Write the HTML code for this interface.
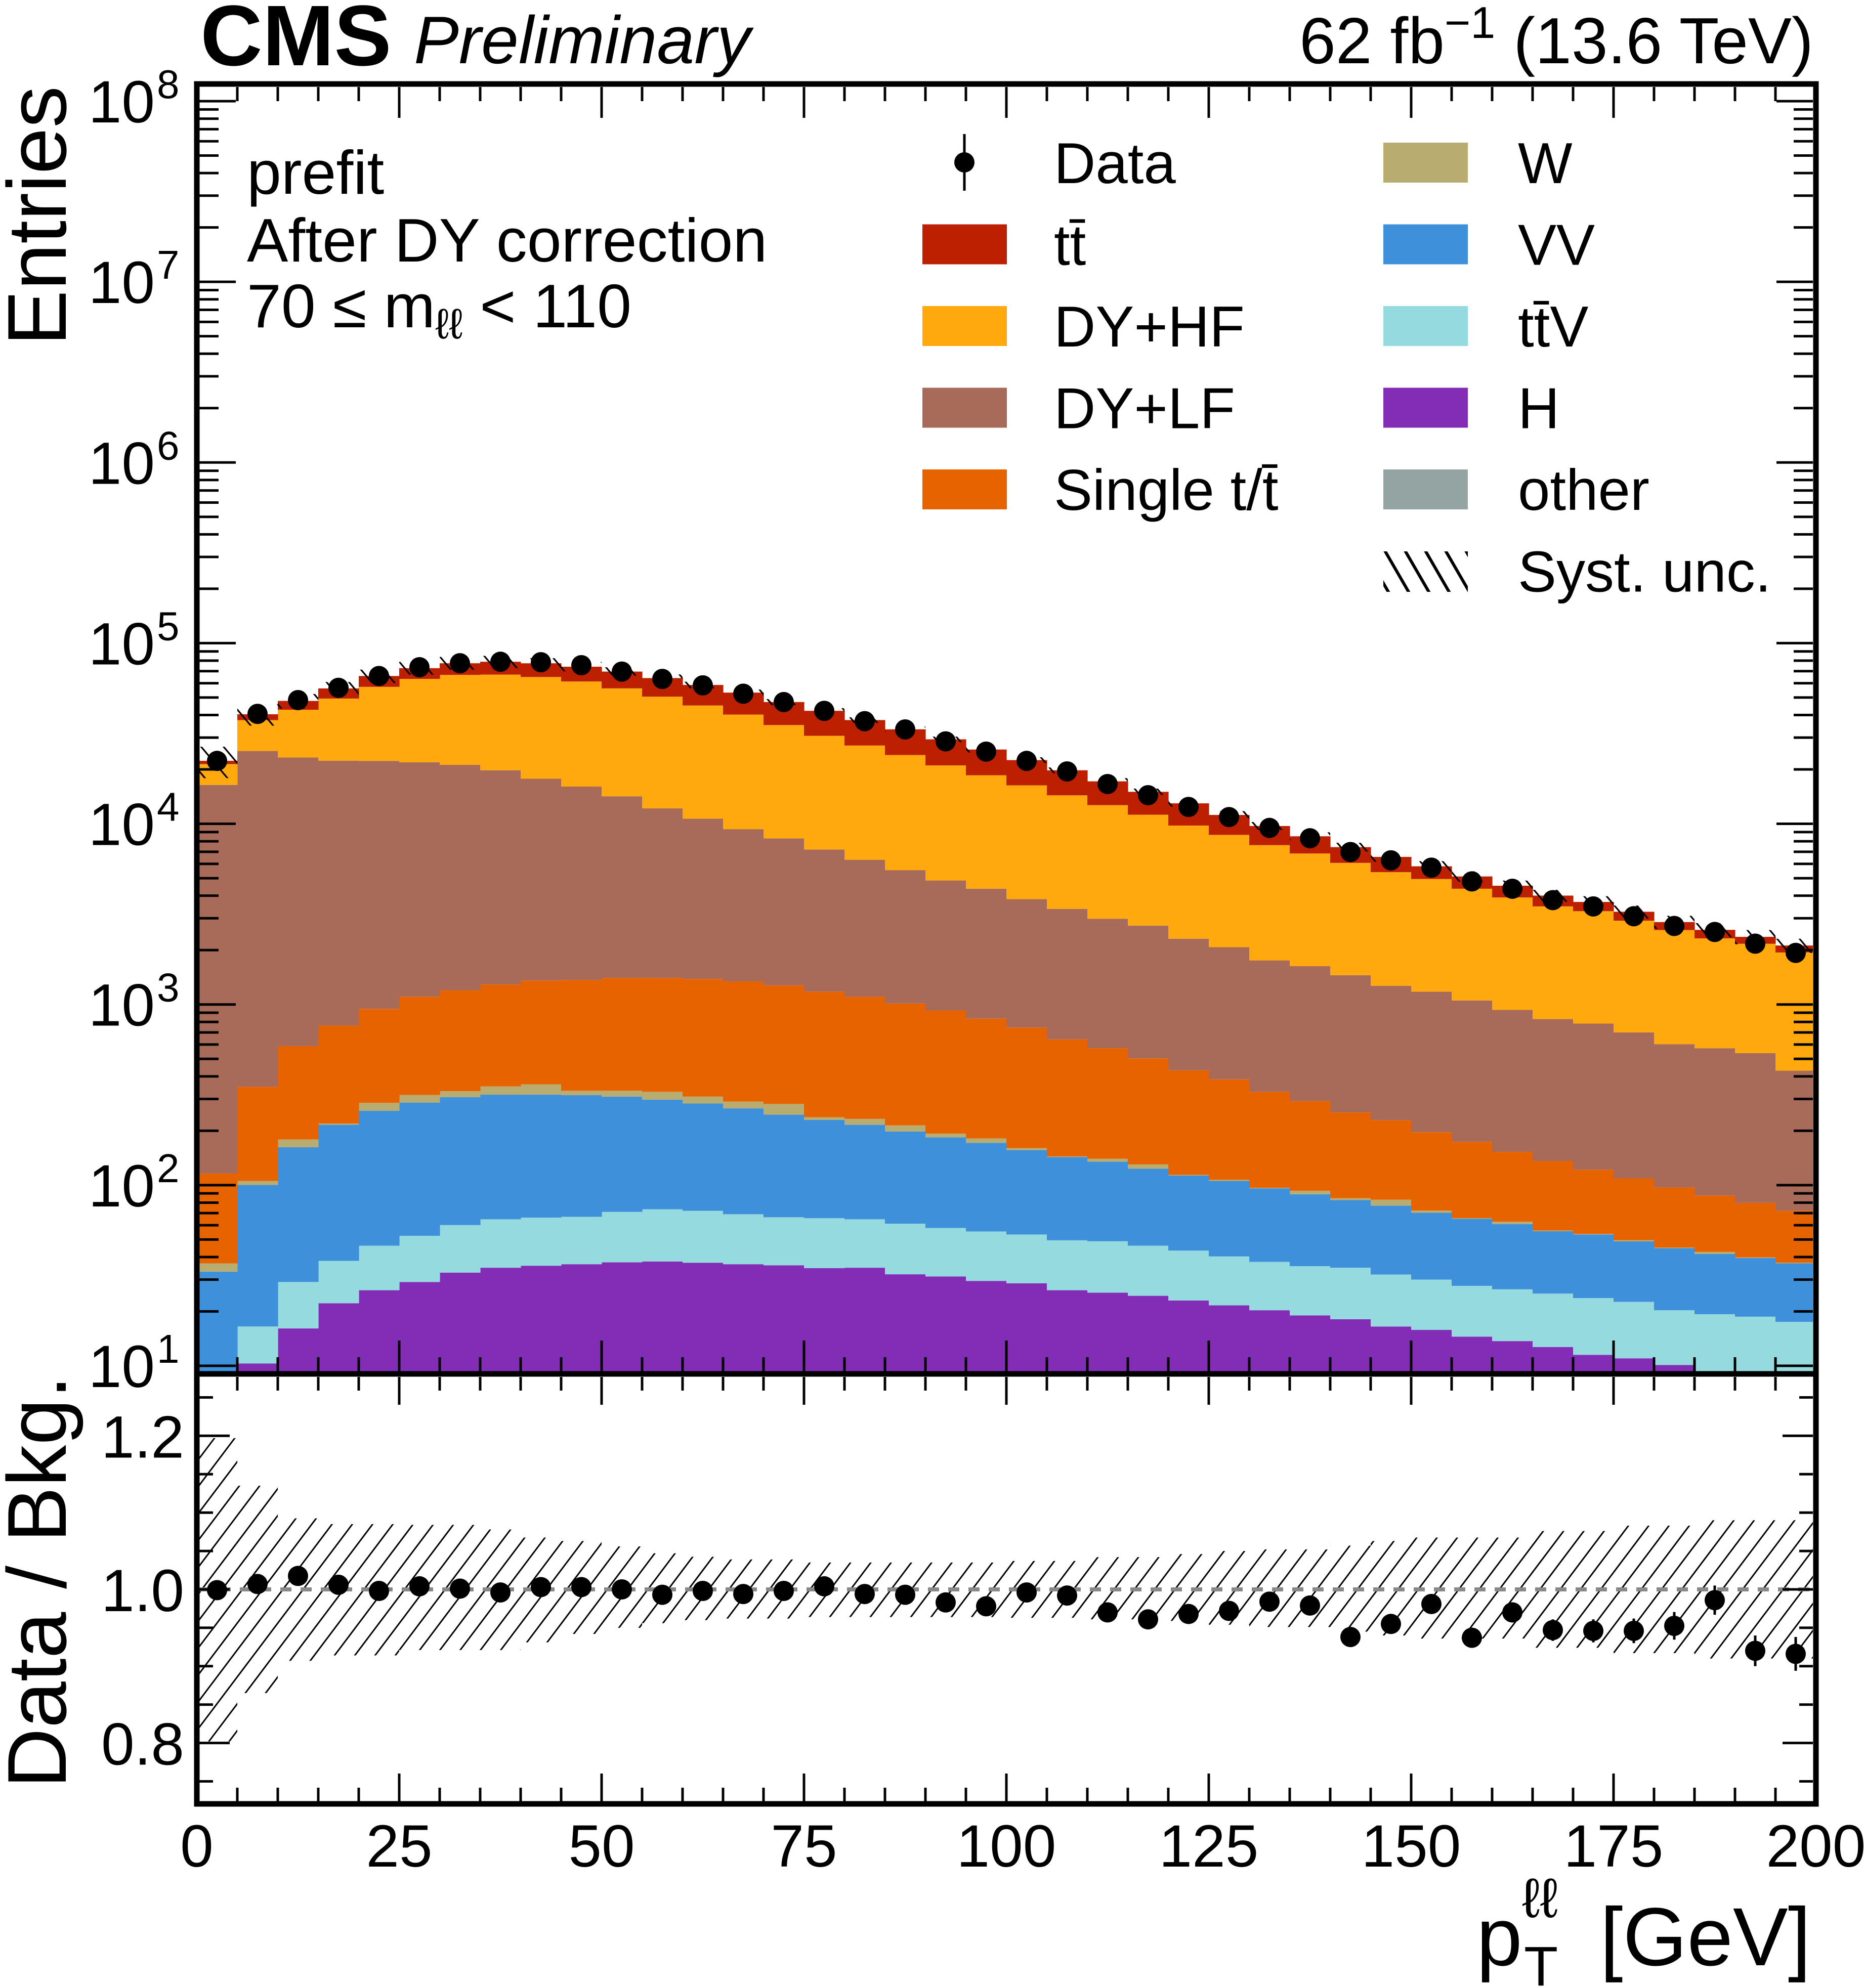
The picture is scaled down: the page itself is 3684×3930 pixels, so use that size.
<!DOCTYPE html>
<html><head><meta charset="utf-8"><title>CMS pT ll</title>
<style>html,body{margin:0;padding:0;background:#fff}svg{display:block}</style>
</head><body>
<svg id="chart" xmlns="http://www.w3.org/2000/svg" width="3684" height="3930" viewBox="0 0 3684 3930" font-family="Liberation Sans, sans-serif">
<defs>
<pattern id="hatchMain" width="34" height="34" patternUnits="userSpaceOnUse" patternTransform="rotate(-40)"><line x1="0" y1="0" x2="0" y2="34" stroke="#000" stroke-width="6.5"/></pattern>
<pattern id="hatchRatio" width="32" height="32" patternUnits="userSpaceOnUse" patternTransform="rotate(37)"><line x1="0" y1="0" x2="0" y2="32" stroke="#000" stroke-width="6"/></pattern>
<clipPath id="clipMain"><rect x="394" y="172" width="3189" height="2539"/></clipPath>
<clipPath id="clipRatio"><rect x="394" y="2722" width="3189" height="838"/></clipPath>
<clipPath id="clipLegHatch"><rect x="2734" y="1090" width="167" height="80"/></clipPath>
</defs>
<g id="mainStack" clip-path="url(#clipMain)"></g>
<g id="mainUnc" clip-path="url(#clipMain)"></g>
<g id="mainData"></g>
<g id="ratioBand" clip-path="url(#clipRatio)"></g>
<line x1="394" y1="3142" x2="3583" y2="3142" stroke="#888" stroke-width="8" stroke-dasharray="22,18"/>
<g id="ratioData"></g>
<g id="ticks" stroke="#000" stroke-width="5"></g>
<rect x="389" y="166" width="3200" height="2550" fill="none" stroke="#000" stroke-width="11"/>
<rect x="389" y="2716" width="3200" height="850" fill="none" stroke="#000" stroke-width="11"/>
<g id="labels" font-size="118" fill="#000"></g>

<text x="396" y="129" font-size="170" font-weight="bold">CMS</text>
<text x="818" y="125" font-size="133" font-style="italic">Preliminary</text>
<text x="3584" y="125" font-size="129" text-anchor="end">62 fb<tspan font-size="88" dy="-50">−1</tspan><tspan dy="50"> (13.6 TeV)</tspan></text>
<text transform="translate(130,170) rotate(-90)" font-size="165" text-anchor="end">Entries</text>
<text transform="translate(130,2719) rotate(-90)" font-size="165" text-anchor="end">Data / Bkg.</text>
<g font-size="163">
<text x="2918" y="3885">p</text>
<text x="3012" y="3925" font-size="110">T</text>
<text x="3008" y="3790" font-size="110">ℓℓ</text>
<text x="3579" y="3885" text-anchor="end">[GeV]</text>
</g>
<text x="488" y="383" font-size="122">prefit</text>
<text x="488" y="517" font-size="122">After DY correction</text>
<text x="488" y="647" font-size="122">70 ≤ m<tspan font-size="84" dy="22">ℓℓ</tspan><tspan dy="-22"> &lt; 110</tspan></text>

<g id="legend" font-size="114"></g>
</svg>
<script>
const binEdges0 = 0;
const binWidth = 5;
const xTickLabels = ["0","25","50","75","100","125","150","175","200"];
const xTickValues = [0,25,50,75,100,125,150,175,200];
const yTickExps = [1,2,3,4,5,6,7,8];
const ratioTickValues = [0.8,1.0,1.2];
const ratioTickLabels = ["0.8","1.0","1.2"];

const hValues = [0,10.3,16.1,22.2,26.2,29.1,32.8,34.9,35.8,36.5,37.4,37.8,37.2,36.5,36,34.7,34.9,32.1,31.2,29.5,28.6,26.2,25.4,24.4,23,21.6,20.3,19,18.1,16.5,15.8,14.5,13.7,12.7,11.5,11.0,10.1,0,0,0];
const ttvValues = [0,6.2,13.0,15.9,20,23.3,27.3,29.8,30.3,30.3,33.7,35.7,34.9,32.5,30.4,30.9,29.8,29.1,26.7,25.9,24.7,23.3,23.5,21.8,20.4,18.7,17.3,16.6,16.8,15.5,14.2,13.2,12.8,12.4,12.2,11.6,10.2,19.3,18.7,17.5];
const vvValues = [33.2,83.8,133,178,212,234,247,252,251,248,238,224,211,197,179,164,151,137,126,116,103,93.5,86,77,69.6,65.2,58.4,53.5,47.7,45,40.3,37.5,34.4,30.5,29.6,26.3,24.5,22.3,20.8,19.4];
const wValues = [3.7,5.2,17,3,27,29,24,35,44,18,24,31,26,24,36,8,17,16,9,10,4,1,5,7,1,1.5,0.6,4,2,6,2,0.5,1.9,0.5,0.4,0.6,0.3,1.1,0.3,0.3];
const singleTopValues = [79,245,409,545,661,789,868,939,997,1035,1070,1074,1075,1053,995,940,871,798,734,653,585,497,433,373,318,278,232,199,168,146,124,108,90,80,68,59.5,52,45,40,35];
const dyLfValues = [16300,24950,22700,21600,21350,20800,20000,18500,16400,14700,12800,10770,9300,8000,7030,6030,5220,4530,3930,3540,3085,2740,2410,2230,1880,1690,1425,1337,1200,1040,982,879,780,694,662,591,506,485,458,358];
const dyHfValues = [5000,12200,19500,27000,35000,41500,45500,47200,47200,45300,42000,38400,34500,30900,26900,23500,20800,18500,16200,14200,12500,11000,9700,8500,7470,6610,5870,5220,4625,4130,3770,3320,2980,2660,2500,2210,1980,1750,1630,1510];
const ttbarValues = [900,2900,5100,6800,8500,9300,10700,11900,12400,12700,13400,13500,13500,13000,12000,11500,10400,9300,8300,7200,6200,5400,4500,3800,3200,2510,2100,1680,1350,1160,870,740,630,515,410,350,275,265,200,180];
const dataValues = [22300,40600,48400,56600,65800,73600,77400,78900,78400,75500,69600,63400,58400,52500,47200,42200,37000,33300,28600,25100,22300,19500,16600,14400,12400,10900,9490,8320,6980,6280,5720,4800,4370,3780,3490,3080,2720,2520,2170,1930];
const ratioValues = [0.999,1.007,1.0175,1.006,0.998,1.004,1.001,0.996,1.003,1.003,1.0,0.993,0.998,0.994,0.998,1.004,0.994,0.993,0.983,0.978,0.996,0.992,0.970,0.961,0.968,0.972,0.984,0.979,0.938,0.955,0.981,0.937,0.970,0.947,0.946,0.946,0.9525,0.986,0.920,0.916];
const ratioErrValues = [0.005,0.004,0.004,0.004,0.004,0.004,0.004,0.004,0.004,0.004,0.004,0.004,0.004,0.004,0.005,0.005,0.005,0.005,0.006,0.006,0.006,0.007,0.007,0.008,0.008,0.009,0.009,0.01,0.011,0.011,0.012,0.013,0.013,0.014,0.015,0.016,0.018,0.019,0.02,0.022];
const systUp = [0.197,0.135,0.0925,0.085,0.085,0.084,0.084,0.078,0.0675,0.063,0.056,0.047,0.0425,0.039,0.039,0.035,0.035,0.035,0.035,0.035,0.037,0.037,0.042,0.042,0.046,0.05,0.052,0.052,0.057,0.063,0.0675,0.0675,0.0675,0.076,0.076,0.083,0.083,0.09,0.09,0.09];
const systDown = [0.198,0.135,0.093,0.086,0.086,0.079,0.079,0.079,0.069,0.058,0.05,0.044,0.04,0.038,0.038,0.036,0.036,0.036,0.036,0.036,0.037,0.037,0.039,0.039,0.041,0.046,0.049,0.049,0.055,0.06,0.064,0.064,0.064,0.076,0.076,0.083,0.083,0.09,0.09,0.09];

const NS = "http://www.w3.org/2000/svg";
function xs(v){ return 389 + v*16; }
function ym(v){ if(v<=0) return 2800; return 200 + (8 - Math.log10(v))*357.14; }
function yr(r){ return 3142 - (r-1)*1518; }
function mk(tag, attrs, parent){ const e=document.createElementNS(NS,tag); for(const k in attrs) e.setAttribute(k, attrs[k]); parent.appendChild(e); return e; }

const processes = [
  {key:'h', name:'H', vals:hValues, color:'#832db6'},
  {key:'ttv', name:'ttV', vals:ttvValues, color:'#94dadf'},
  {key:'vv', name:'VV', vals:vvValues, color:'#3f90da'},
  {key:'w', name:'W', vals:wValues, color:'#b9ac70'},
  {key:'st', name:'Single t', vals:singleTopValues, color:'#e76300'},
  {key:'dylf', name:'DY+LF', vals:dyLfValues, color:'#a96b59'},
  {key:'dyhf', name:'DY+HF', vals:dyHfValues, color:'#ffa90e'},
  {key:'tt', name:'ttbar', vals:ttbarValues, color:'#bd1f01'}
];
const nb = dataValues.length;
const stackG = document.getElementById('mainStack');
let cum = new Array(nb).fill(0);
processes.forEach(p=>{
  const g = mk('g',{},stackG);
  
  
  for(let i=0;i<nb;i++){
    const lo = cum[i], hi = cum[i]+p.vals[i];
    if(p.vals[i]>0){
      const y1 = ym(hi), y0 = ym(lo);
      const r = mk('rect',{x:xs(binEdges0+i*binWidth), y:y1, width:binWidth*16+0.6, height:Math.max(0,y0-y1), fill:p.color}, g);
      
      
    }
    cum[i]=hi;
  }
});
const uncG = document.getElementById('mainUnc');
for(let i=0;i<nb;i++){
  const t = cum[i];
  const y1 = ym(t*(1+systUp[i])), y0 = ym(t*(1-systDown[i]));
  const r = mk('rect',{x:xs(i*binWidth), y:y1, width:binWidth*16, height:y0-y1, fill:'url(#hatchMain)'}, uncG);
  
  
}
const dataG = document.getElementById('mainData');
for(let i=0;i<nb;i++){
  const cx = xs(i*binWidth+binWidth/2), cy = ym(dataValues[i]);
  const c = mk('circle',{cx:cx, cy:cy, r:20, fill:'#000'}, dataG);
  
  
}
const rbG = document.getElementById('ratioBand');
for(let i=0;i<nb;i++){
  const y1 = yr(1+systUp[i]), y0 = yr(1-systDown[i]);
  const r = mk('rect',{x:xs(i*binWidth), y:y1, width:binWidth*16, height:y0-y1, fill:'url(#hatchRatio)'}, rbG);
  
  
}
const rdG = document.getElementById('ratioData');
for(let i=0;i<nb;i++){
  const cx = xs(i*binWidth+binWidth/2), cy = yr(ratioValues[i]);
  const e = ratioErrValues[i];
  const l = mk('line',{x1:cx, x2:cx, y1:yr(ratioValues[i]+e), y2:yr(ratioValues[i]-e), stroke:'#000', 'stroke-width':5}, rdG);
  
  
  const c = mk('circle',{cx:cx, cy:cy, r:20, fill:'#000'}, rdG);
  
  
}

const tG = document.getElementById('ticks');
function tick(x1,y1,x2,y2){ mk('line',{x1:x1,y1:y1,x2:x2,y2:y2},tG); }
for(let v=0; v<=200; v+=5){
  const x = xs(v); const major = (v%25===0);
  if(v===0||v===200) continue;
  const lm = major?61:28, lr = major?55:27;
  tick(x,2711,x,2711-lm); tick(x,172,x,172+lm);
  tick(x,3561,x,3561-lr); tick(x,2722,x,2722+lr);
}
for(let e=0;e<=8;e++){
  for(let m=1;m<=9;m++){
    const v = m*Math.pow(10,e); const y = ym(v);
    if(y<172||y>2711) continue;
    const l = (m===1)?72:38;
    tick(394,y,394+l,y); tick(3583,y,3583-l,y);
  }
}
for(let k=0;k<=12;k++){
  const r = 0.7+k*0.05; const y = yr(r);
  if(y<2722||y>3561) continue;
  const major = Math.abs((r*10)%2) < 0.01 || Math.abs((r*10)%2-2)<0.01;
  const l = major?60:27;
  tick(394,y,394+l,y); tick(3583,y,3583-l,y);
}
const lG = document.getElementById('labels');
xTickValues.forEach((v,i)=>{
  const t = mk('text',{x:xs(v), y:3690, 'text-anchor':'middle'}, lG);
  t.textContent = xTickLabels[i];
  
  
});
yTickExps.forEach(e=>{
  const y = ym(Math.pow(10,e));
  const t = mk('text',{x:306, y:y+42, 'text-anchor':'end'}, lG);
  t.textContent = '10';
  
  
  const s = mk('text',{x:310, y:y-6, 'font-size':80}, lG);
  s.textContent = String(e);
  
  
});
ratioTickValues.forEach((v,i)=>{
  const t = mk('text',{x:364, y:yr(v)+43, 'text-anchor':'end'}, lG);
  t.textContent = ratioTickLabels[i];
  
  
});

const legG = document.getElementById('legend');
const legendEntries = [
  {label:'Data', type:'data', col:0, row:0},
  {label:'t\u0074\u0304', color:'#bd1f01', col:0, row:1},
  {label:'DY+HF', color:'#ffa90e', col:0, row:2},
  {label:'DY+LF', color:'#a96b59', col:0, row:3},
  {label:'Single t/t\u0304', color:'#e76300', col:0, row:4},
  {label:'W', color:'#b9ac70', col:1, row:0},
  {label:'VV', color:'#3f90da', col:1, row:1},
  {label:'tt\u0304V', color:'#94dadf', col:1, row:2},
  {label:'H', color:'#832db6', col:1, row:3},
  {label:'other', color:'#94a4a2', col:1, row:4},
  {label:'Syst. unc.', type:'hatch', col:1, row:5}
];
legendEntries.forEach(en=>{
  const bx = en.col===0?1823:2734, tx = en.col===0?2083:3000;
  const cy = 321 + en.row*161.5;
  const g = mk('g',{},legG);
  
  
  if(en.type==='data'){
    mk('line',{x1:1906,x2:1906,y1:cy-56,y2:cy+56,stroke:'#000','stroke-width':5},g);
    mk('circle',{cx:1906,cy:cy,r:20,fill:'#000'},g);
  } else if(en.type==='hatch'){
    const hg = mk('g',{'clip-path':'url(#clipLegHatch)'},g);
    for(let k=-1;k<6;k++){
      const x0 = 2734 + k*40;
      mk('line',{x1:x0,y1:cy-45,x2:x0+52,y2:cy+45,stroke:'#000','stroke-width':6},hg);
    }
  } else {
    mk('rect',{x:bx,y:cy-39,width:167,height:79,fill:en.color},g);
  }
  const t = mk('text',{x:tx,y:cy+41},g);
  t.textContent = en.label;
});
</script>
</body></html>
